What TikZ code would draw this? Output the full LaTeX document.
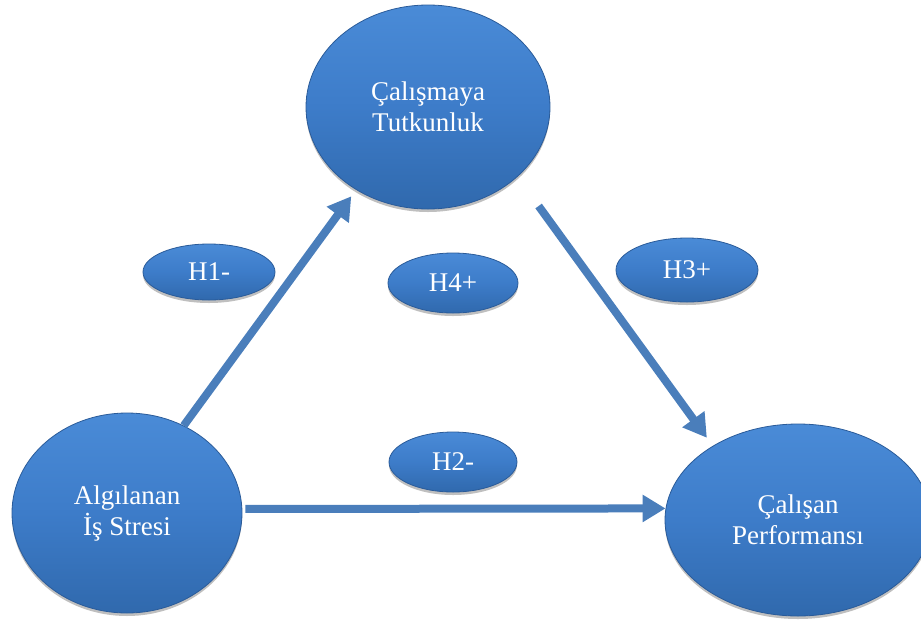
\documentclass[tikz,border=0pt]{standalone}
\usepackage{fontspec}
\setmainfont{Liberation Serif}
\usetikzlibrary{arrows.meta,shapes.geometric,shadows,calc}
\definecolor{ballTop}{HTML}{4A8BD7}
\definecolor{ballMid}{HTML}{3D7CC9}
\definecolor{ballBot}{HTML}{3069AD}
\definecolor{ballEdge}{HTML}{2A5B99}
\definecolor{arrowBlue}{HTML}{4A7EBB}
\tikzset{
  ball/.style={ellipse, inner sep=0pt, draw=ballEdge, line width=0.8pt,
    top color=ballTop, bottom color=ballBot, middle color=ballMid,
    text=white, align=center,
    font=\fontsize{27}{31}\selectfont,
    drop shadow={shadow xshift=0pt, shadow yshift=-3pt, opacity=0.25, fill=black}},
  conn/.style={draw=arrowBlue, line width=8pt,
    -{Triangle[length=23pt,width=26pt]}}
}
\begin{document}
\begin{tikzpicture}[x=1pt,y=-1pt]
\useasboundingbox (0,0) rectangle (921,619);
\node[ball, minimum width=244pt, minimum height=204pt] (T) at (428,107) {Çalışmaya\\Tutkunluk};
\node[ball, minimum width=230pt, minimum height=200pt] (L) at (127,513) {Algılanan\\İş Stresi};
\node[ball, minimum width=266pt, minimum height=192pt] (R) at (798,520) {Çalışan\\Performansı};
\node[ball, minimum width=132pt, minimum height=56pt] (H1) at (209,272) {H1-};
\node[ball, minimum width=130pt, minimum height=60pt] (H4) at (453,283) {H4+};
\node[ball, minimum width=142pt, minimum height=64pt] (H3) at (687,270) {H3+};
\node[ball, minimum width=128pt, minimum height=60pt] (H2) at (453,462) {H2-};
\draw[conn, shorten >=8pt] (L.57.6) -- (T.229.9);
\draw[conn, shorten <=36pt, shorten >=10pt] (T.-38.9) -- (R.139.3);
\draw[conn, shorten <=3pt] (L.2) -- (R.175);
\end{tikzpicture}
\end{document}
